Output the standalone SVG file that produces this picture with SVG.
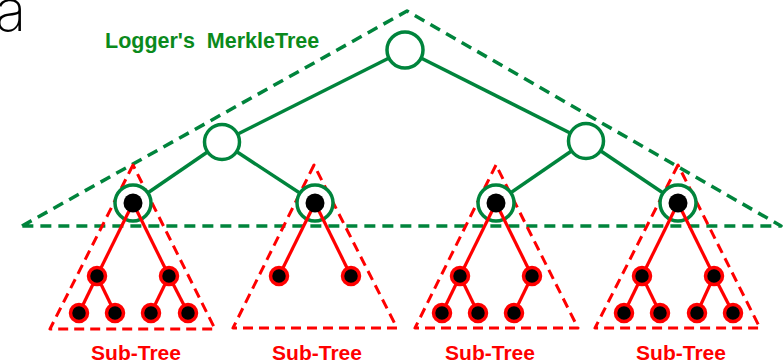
<svg xmlns="http://www.w3.org/2000/svg" width="783" height="361" viewBox="0 0 783 361">
  <style>
    .gdash { fill: none; stroke: #00843c; stroke-width: 3.5; stroke-dasharray: 11 7; stroke-linejoin: round; }
    .rdash { fill: none; stroke: #ff0000; stroke-width: 3; stroke-dasharray: 10 6; stroke-linejoin: round; }
    .gedge { stroke: #00843c; stroke-width: 3.5; }
    .redge { stroke: #ff0000; stroke-width: 3.2; }
    .gnode { fill: #ffffff; stroke: #00843c; stroke-width: 3.5; }
    .dot { fill: #000000; }
    .rnode { fill: #000000; stroke: #ff0000; stroke-width: 3.5; }
    .sub { font-family: "Liberation Sans", Arial, sans-serif; font-weight: bold; font-size: 21px; fill: #ff0000; text-anchor: middle; }
    .title { font-family: "Liberation Sans", Arial, sans-serif; font-weight: bold; font-size: 21.5px; fill: #0b8a1c; }
  </style>
  <rect width="783" height="361" fill="#ffffff"/>

  <!-- panel letter -->
  <text x="-5" y="31" font-family="Inter, 'DejaVu Sans', sans-serif" font-weight="200" font-size="58" fill="#000000">a</text>

  <!-- dashed outlines -->
  <g id="outlines">
    <polygon class="gdash" points="22,226 407,11 781,226"/>
    <polygon class="rdash" points="133,165 50,329 215,329"/>
    <polygon class="rdash" points="314,165 233,328 397,328"/>
    <polygon class="rdash" points="496,165 415,328 578,328"/>
    <polygon class="rdash" points="678,165 595,328 760,328"/>
  </g>

  <!-- connectors -->
  <g id="connectors">
    <line class="gedge" x1="405" y1="50" x2="222" y2="142"/>
    <line class="gedge" x1="405" y1="50" x2="586" y2="141"/>
    <line class="gedge" x1="222" y1="142" x2="133" y2="203"/>
    <line class="gedge" x1="222" y1="142" x2="315" y2="203"/>
    <line class="gedge" x1="586" y1="141" x2="496" y2="203"/>
    <line class="gedge" x1="586" y1="141" x2="678" y2="203"/>
  </g>

  <!-- Merkle tree upper nodes -->
  <g id="root"><circle class="gnode" cx="405" cy="50" r="18"/></g>
  <g id="mid-left"><circle class="gnode" cx="222" cy="142" r="17.5"/></g>
  <g id="mid-right"><circle class="gnode" cx="586" cy="141" r="17.5"/></g>

  <!-- subtree 1 -->
  <g id="subtree-1">
    <circle class="gnode" cx="133" cy="203" r="18"/>
    <g class="redge">
      <line x1="133" y1="203" x2="97" y2="276"/>
      <line x1="133" y1="203" x2="169" y2="276"/>
      <line x1="97" y1="276" x2="79" y2="313"/>
      <line x1="97" y1="276" x2="115" y2="313"/>
      <line x1="169" y1="276" x2="151" y2="313"/>
      <line x1="169" y1="276" x2="188" y2="313"/>
    </g>
    <circle class="dot" cx="133" cy="203" r="9.5"/>
    <circle class="rnode" cx="97" cy="276" r="8.5"/>
    <circle class="rnode" cx="169" cy="276" r="8.5"/>
    <circle class="rnode" cx="79" cy="313" r="8.5"/>
    <circle class="rnode" cx="115" cy="313" r="8.5"/>
    <circle class="rnode" cx="151" cy="313" r="8.5"/>
    <circle class="rnode" cx="188" cy="313" r="8.5"/>
  </g>

  <!-- subtree 2 -->
  <g id="subtree-2">
    <circle class="gnode" cx="315" cy="203" r="18"/>
    <g class="redge">
      <line x1="315" y1="203" x2="279" y2="276"/>
      <line x1="315" y1="203" x2="351" y2="276"/>
    </g>
    <circle class="dot" cx="315" cy="203" r="9.5"/>
    <circle class="rnode" cx="279" cy="276" r="8.5"/>
    <circle class="rnode" cx="351" cy="276" r="8.5"/>
  </g>

  <!-- subtree 3 -->
  <g id="subtree-3">
    <circle class="gnode" cx="496" cy="203" r="18"/>
    <g class="redge">
      <line x1="496" y1="203" x2="460" y2="276"/>
      <line x1="496" y1="203" x2="532" y2="276"/>
      <line x1="460" y1="276" x2="442" y2="313"/>
      <line x1="460" y1="276" x2="478" y2="313"/>
      <line x1="532" y1="276" x2="514" y2="313"/>
    </g>
    <circle class="dot" cx="496" cy="203" r="9.5"/>
    <circle class="rnode" cx="460" cy="276" r="8.5"/>
    <circle class="rnode" cx="532" cy="276" r="8.5"/>
    <circle class="rnode" cx="442" cy="313" r="8.5"/>
    <circle class="rnode" cx="478" cy="313" r="8.5"/>
    <circle class="rnode" cx="514" cy="313" r="8.5"/>
  </g>

  <!-- subtree 4 -->
  <g id="subtree-4">
    <circle class="gnode" cx="678" cy="203" r="18"/>
    <g class="redge">
      <line x1="678" y1="203" x2="642" y2="276"/>
      <line x1="678" y1="203" x2="714" y2="276"/>
      <line x1="642" y1="276" x2="624" y2="313"/>
      <line x1="642" y1="276" x2="660" y2="313"/>
      <line x1="714" y1="276" x2="697" y2="313"/>
      <line x1="714" y1="276" x2="733" y2="313"/>
    </g>
    <circle class="dot" cx="678" cy="203" r="9.5"/>
    <circle class="rnode" cx="642" cy="276" r="8.5"/>
    <circle class="rnode" cx="714" cy="276" r="8.5"/>
    <circle class="rnode" cx="624" cy="313" r="8.5"/>
    <circle class="rnode" cx="660" cy="313" r="8.5"/>
    <circle class="rnode" cx="697" cy="313" r="8.5"/>
    <circle class="rnode" cx="733" cy="313" r="8.5"/>
  </g>

  <!-- labels -->
  <g id="labels">
    <text class="title" x="105" y="48" xml:space="preserve">Logger's  MerkleTree</text>
    <text class="sub" x="136" y="360">Sub-Tree</text>
    <text class="sub" x="317" y="360">Sub-Tree</text>
    <text class="sub" x="490" y="360">Sub-Tree</text>
    <text class="sub" x="681" y="360">Sub-Tree</text>
  </g>
</svg>
